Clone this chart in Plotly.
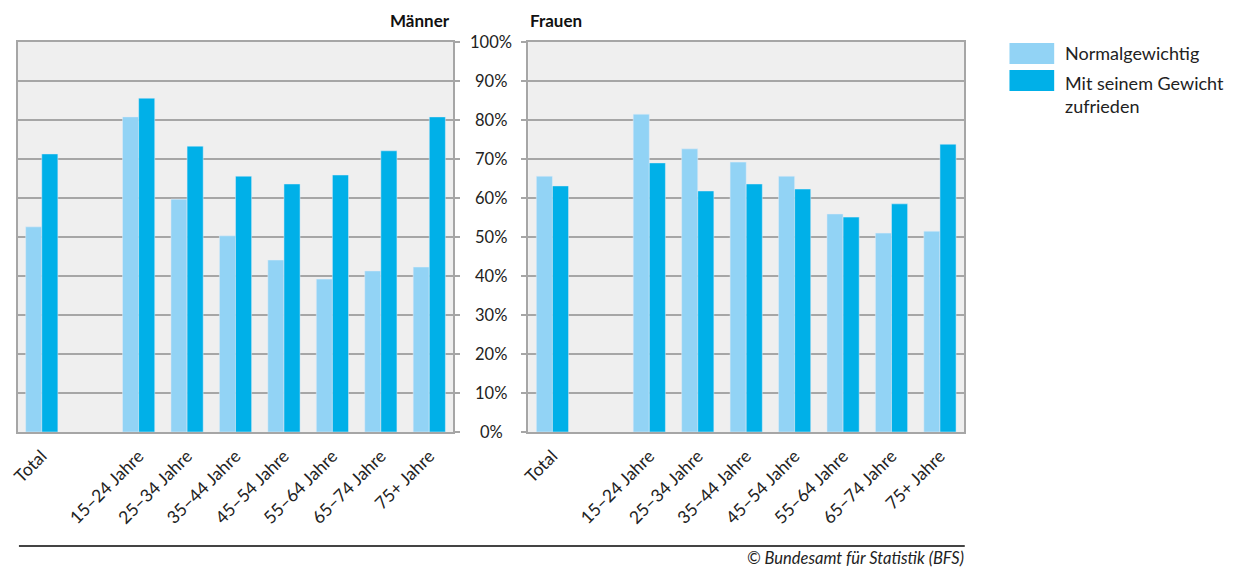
import plotly.graph_objects as go

# Categories (slot 1 is intentionally left empty between Total and the age groups)
categories = ["Total", "15–24 Jahre", "25–34 Jahre", "35–44 Jahre", "45–54 Jahre",
              "55–64 Jahre", "65–74 Jahre", "75+ Jahre"]
positions = [0, 2, 3, 4, 5, 6, 7, 8]

maenner_normal = [52.6, 80.8, 59.7, 50.3, 44.1, 39.2, 41.3, 42.3]
maenner_zufrieden = [71.3, 85.6, 73.3, 65.6, 63.6, 65.9, 72.1, 80.8]
frauen_normal = [65.6, 81.5, 72.6, 69.2, 65.6, 55.9, 51.0, 51.5]
frauen_zufrieden = [63.1, 69.0, 61.8, 63.6, 62.3, 55.1, 58.5, 73.8]

y_ticks = [0, 10, 20, 30, 40, 50, 60, 70, 80, 90, 100]
y_tick_labels = [f"{v}%" for v in y_ticks]

series_names = ["Normalgewichtig", "Mit seinem Gewicht<br>zufrieden"]
LIGHT = "#92d3f5"
DARK = "#00b0e8"
GRID = "#a6a6a6"
FONT = "Lato"
TEXT = "#222222"

W, H = 1236, 570


def px(x):
    return x / W


def py(y):
    return 1 - y / H


fig = go.Figure()
fig.add_bar(x=positions, y=maenner_normal, marker_color=LIGHT, xaxis="x", yaxis="y",
            name=series_names[0], showlegend=False)
fig.add_bar(x=positions, y=maenner_zufrieden, marker_color=DARK, xaxis="x", yaxis="y",
            name=series_names[1], showlegend=False)
fig.add_bar(x=positions, y=frauen_normal, marker_color=LIGHT, xaxis="x2", yaxis="y2",
            name=series_names[0], showlegend=False)
fig.add_bar(x=positions, y=frauen_zufrieden, marker_color=DARK, xaxis="x2", yaxis="y2",
            name=series_names[1], showlegend=False)

y_dom = [py(432), py(42)]
xcommon = dict(range=[-0.5, 8.5], tickmode="array", tickvals=positions, ticktext=categories,
               tickangle=-45, showgrid=False, zeroline=False, showline=True, linecolor=GRID,
               linewidth=2, mirror=True, ticks="", tickfont=dict(family=FONT, size=17.5, color=TEXT),
               ticklabelstandoff=5)
ycommon = dict(range=[0, 100], tickvals=y_ticks, showticklabels=False, showgrid=True,
               gridcolor=GRID, gridwidth=1.5, zeroline=False, showline=True, linecolor=GRID,
               linewidth=2, mirror=True, ticks="outside", ticklen=5, tickcolor=GRID, tickwidth=1.5,
               domain=y_dom)

fig.update_layout(
    width=W, height=H,
    margin=dict(l=0, r=0, t=0, b=0),
    paper_bgcolor="white",
    plot_bgcolor="#efefef",
    barmode="group", bargap=0.335, bargroupgap=0,
    showlegend=False,
    xaxis=dict(domain=[px(9.6), px(448.4)], anchor="y", **xcommon),
    yaxis=dict(anchor="x", side="right", **ycommon),
    xaxis2=dict(domain=[px(523.6), px(962.4)], anchor="y2", **xcommon),
    yaxis2=dict(anchor="x2", side="left", **ycommon),
)

annotations = []
# Shared percentage labels between the two panels
for v, lab in zip(y_ticks, y_tick_labels):
    annotations.append(dict(x=px(486.5), xref="paper", y=v, yref="y", text=lab, showarrow=False,
                            xanchor="center", yanchor="middle",
                            font=dict(family=FONT, size=16.5, color=TEXT)))

# Panel titles
annotations.append(dict(x=px(447), y=py(20), xref="paper", yref="paper", text="<b>Männer</b>",
                        showarrow=False, xanchor="right", yanchor="middle",
                        font=dict(family=FONT, size=17, color="#111")))
annotations.append(dict(x=px(523), y=py(20), xref="paper", yref="paper", text="<b>Frauen</b>",
                        showarrow=False, xanchor="left", yanchor="middle",
                        font=dict(family=FONT, size=17, color="#111")))

# Legend
annotations.append(dict(x=px(1062), y=py(53), xref="paper", yref="paper", text=series_names[0],
                        showarrow=False, xanchor="left", yanchor="middle", align="left",
                        font=dict(family=FONT, size=18, color=TEXT)))
annotations.append(dict(x=px(1062), y=py(70), xref="paper", yref="paper", text=series_names[1],
                        showarrow=False, xanchor="left", yanchor="top", align="left",
                        font=dict(family=FONT, size=18, color=TEXT)))

# Source
annotations.append(dict(x=px(963), y=0, xref="paper", yref="paper",
                        text="<i>© Bundesamt für Statistik (BFS)</i>", showarrow=False,
                        xanchor="right", yanchor="bottom", borderpad=0, yshift=1,
                        font=dict(family=FONT, size=16.5, color=TEXT)))

shapes = [
    dict(type="rect", xref="paper", yref="paper", x0=px(1008), x1=px(1053), y0=py(64), y1=py(43),
         fillcolor=LIGHT, line=dict(width=0)),
    dict(type="rect", xref="paper", yref="paper", x0=px(1008), x1=px(1053), y0=py(91), y1=py(70),
         fillcolor=DARK, line=dict(width=0)),
    dict(type="line", xref="paper", yref="paper", x0=px(11), x1=px(963), y0=py(546), y1=py(546),
         line=dict(color="#444", width=2)),
]

fig.update_layout(annotations=annotations, shapes=shapes)
fig.write_html("out.html")
